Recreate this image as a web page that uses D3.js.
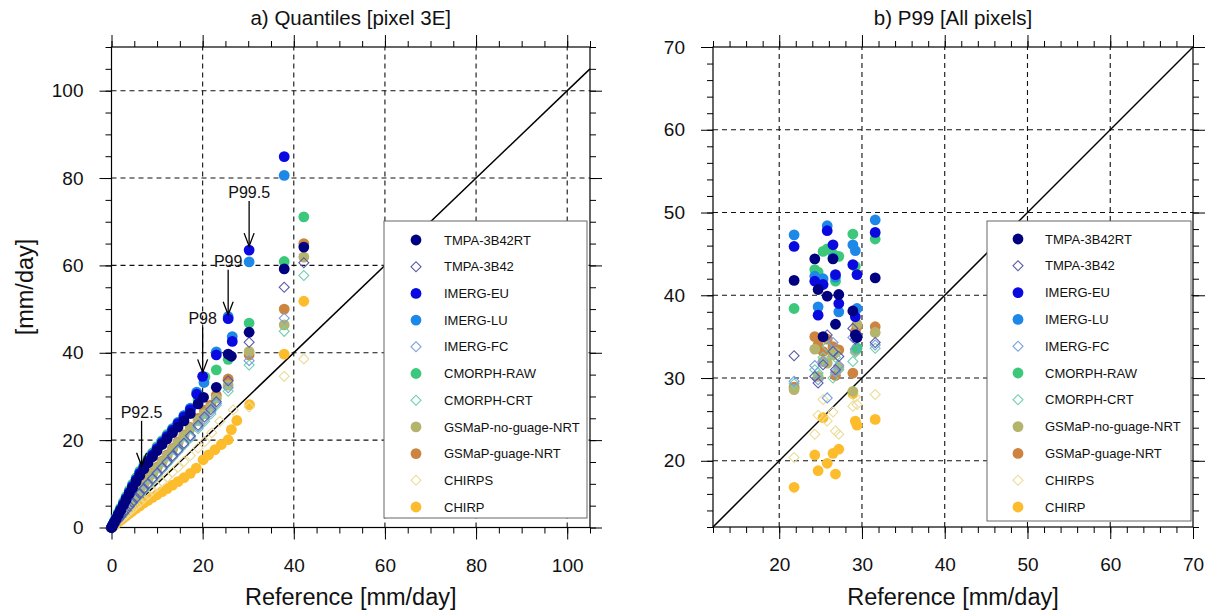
<!DOCTYPE html>
<html>
<head>
<meta charset="utf-8">
<script src="https://cdn.jsdelivr.net/npm/d3@7"></script>
<style>
  body { margin: 0; background: #fff; }
  text { font-family: "Liberation Sans", Arial, Helvetica, sans-serif; fill: #111; }
</style>
</head>
<body>
<div id="canvas"></div>
<script>
// products, in legend order
var products = ['TMPA-3B42RT','TMPA-3B42','IMERG-EU','IMERG-LU','IMERG-FC','CMORPH-RAW',
                'CMORPH-CRT','GSMaP-no-guage-NRT','GSMaP-guage-NRT','CHIRPS','CHIRP'];
var colors = ['#000080','#5b5ba8','#0a0ae0','#1e88e8','#7aa0e0','#3cc87a',
              '#70d0b0','#b4b46c','#cd8440','#ecdc9a','#fdbc2c'];
var hollow = [false,true,false,false,true,false,true,false,false,true,false];

// a) quantiles, pixel 3E : low part of the curve (reference quantiles shared)
var refLow = [0,0.3,0.6,1.0,1.5,2.0,2.6,3.2,3.9,4.6,5.4,6.2,7.1,8.0,9.0,10.0,11.1,12.2,13.4,14.6,15.9,17.3];
var lowRT   = [0,0.5,1.1,1.9,2.9,3.9,5.1,6.3,7.7,9.0,10.5,11.9,13.4,14.8,16.2,17.6,19.0,20.3,21.7,23.0,24.4,26.1];
var low3B42 = [0,0.4,0.8,1.3,1.9,2.5,3.3,4.0,4.9,5.8,6.8,7.8,8.9,10.0,11.2,12.4,13.7,15.0,16.4,17.8,19.3,21.0];
var lowEU   = [0,0.6,1.2,2.0,3.0,4.1,5.3,6.6,8.0,9.4,10.9,12.4,13.8,15.2,16.6,18.0,19.4,20.8,22.3,23.8,25.3,27.0];
var lowLU   = [0,0.6,1.2,2.1,3.1,4.2,5.4,6.7,8.1,9.5,11.0,12.5,13.9,15.3,16.8,18.2,19.6,21.0,22.5,24.0,25.6,27.3];
var lowFC   = [0,0.4,0.8,1.3,1.9,2.5,3.2,4.0,4.8,5.7,6.7,7.7,8.7,9.8,11.0,12.2,13.5,14.8,16.2,17.6,19.1,20.8];
var lowRAW  = [0,0.7,1.4,2.3,3.4,4.5,5.8,7.1,8.5,9.9,11.4,12.9,14.3,15.7,17.1,18.5,19.9,21.3,22.7,24.1,25.6,27.2];
var lowCRT  = [0,0.4,0.8,1.3,1.8,2.4,3.1,3.9,4.7,5.6,6.5,7.5,8.5,9.6,10.8,12.0,13.3,14.6,16.0,17.4,18.9,20.5];
var lowGNG  = [0,0.5,0.9,1.4,2.1,2.8,3.6,4.4,5.4,6.4,7.5,8.6,9.8,11.0,12.3,13.6,15.0,16.4,17.9,19.4,21.0,22.7];
var lowGG   = [0,0.5,1.0,1.5,2.2,2.9,3.7,4.6,5.6,6.6,7.7,8.8,10.0,11.2,12.5,13.8,15.2,16.6,18.1,19.6,21.2,22.9];
var lowCHIRPS = [0,0.3,0.6,0.9,1.4,1.9,2.4,3.0,3.7,4.3,5.1,5.8,6.7,7.5,8.5,9.4,10.5,11.5,12.7,13.8,15.1,16.5];
var lowCHIRP  = [0,0.25,0.5,0.85,1.25,1.65,2.15,2.65,3.2,3.75,4.35,4.95,5.6,6.2,6.9,7.5,8.2,8.9,9.7,10.5,11.4,12.4];

// upper tail, [reference, product]
var tailRT   = [[19.0,28.3],[20.2,29.8],[23.0,32.1],[25.6,39.7],[26.3,39.2],[30.2,44.7],[37.9,59.2],[42.2,64.2]];
var tail3B42 = [[19.0,23.4],[20.4,25.3],[21.8,27.0],[23.0,28.8],[25.6,33.6],[30.2,42.4],[37.9,55.0],[42.2,60.6]];
var tailEU   = [[18.7,30.5],[20.0,34.6],[23.0,39.5],[25.6,47.8],[26.5,42.6],[30.2,63.5],[37.9,84.9]];
var tailLU   = [[18.7,31.0],[20.3,33.2],[23.0,40.2],[25.6,48.3],[26.5,43.7],[30.2,60.8],[37.9,80.6]];
var tailFC   = [[19.0,23.0],[20.4,24.8],[21.8,26.5],[23.0,28.4],[25.6,32.0],[30.2,38.2],[37.9,47.9]];
var tailRAW  = [[19.0,29.2],[20.5,34.5],[23.0,36.1],[25.6,38.5],[30.2,46.8],[37.9,60.9],[42.2,71.1]];
var tailCRT  = [[19.0,22.6],[20.4,24.3],[21.8,26.0],[23.0,28.0],[25.6,31.2],[30.2,37.2],[37.9,44.9],[42.2,57.7]];
var tailGNG  = [[19.0,24.5],[20.4,26.0],[21.8,27.5],[23.0,29.6],[25.6,32.6],[30.2,40.3],[37.9,46.4],[42.2,61.9]];
var tailGG   = [[19.0,25.0],[20.4,26.8],[21.8,28.0],[23.0,30.3],[25.6,34.0],[30.2,39.5],[37.9,50.0],[42.2,65.0]];
var tailCHIRPS = [[19.0,18.2],[20.5,19.7],[22.0,21.7],[23.8,24.3],[26.7,26.9],[30.2,27.6],[37.9,34.6],[42.2,38.6]];
var tailCHIRP  = [[18.6,13.6],[20.1,15.5],[21.3,16.6],[22.7,17.8],[24.1,19.0],[25.6,20.1],[26.3,22.4],[27.5,24.5],[30.3,28.1],[37.9,39.7],[42.2,51.8]];

var quantLabels = [['P92.5',6.6,13.2],['P98',20.0,34.6],['P99',25.6,47.8],['P99.5',30.2,63.5]];

// b) P99 of all pixels
var pixelRef = [21.8,24.3,24.7,25.3,25.8,26.5,26.8,27.2,28.9,29.2,29.4,31.6];
var p99RT   = [41.8,44.4,40.7,35.0,39.9,44.4,36.5,40.1,38.1,35.2,34.9,42.1];
var p993B42 = [32.7,30.2,29.4,31.6,35.2,33.2,31.0,32.6,36.0,34.7,35.3,34.3];
var p99EU   = [45.9,41.7,37.6,41.3,47.8,46.1,42.5,39.0,43.7,37.4,42.5,47.6];
var p99LU   = [47.3,42.3,38.6,42.0,48.4,44.5,42.2,38.0,46.1,45.4,38.4,49.1];
var p99FC   = [29.6,31.5,29.8,32.0,27.6,34.3,30.7,31.5,34.9,33.5,35.1,34.0];
var p99RAW  = [38.4,43.1,42.8,45.3,45.6,45.0,41.7,44.7,47.4,43.5,33.6,46.8];
var p99CRT  = [29.3,31.0,30.6,32.5,33.8,30.0,32.5,31.0,32.0,33.1,33.8,33.6];
var p99GNG  = [28.6,33.5,30.2,32.0,31.8,32.8,33.1,31.3,28.4,33.3,36.5,35.5];
var p99GG   = [28.9,35.0,34.0,33.2,34.7,33.8,30.3,33.4,30.6,35.6,36.2,36.2];
var p99CHIRPS = [20.4,23.2,25.5,27.4,24.8,25.9,23.6,23.2,26.6,27.7,26.8,28.0];
var p99CHIRP  = [16.8,20.7,18.8,25.2,19.7,20.9,18.4,21.4,28.1,24.8,24.3,25.0];

var lowSets  = [lowRT,low3B42,lowEU,lowLU,lowFC,lowRAW,lowCRT,lowGNG,lowGG,lowCHIRPS,lowCHIRP];
var tailSets = [tailRT,tail3B42,tailEU,tailLU,tailFC,tailRAW,tailCRT,tailGNG,tailGG,tailCHIRPS,tailCHIRP];
var p99Sets  = [p99RT,p993B42,p99EU,p99LU,p99FC,p99RAW,p99CRT,p99GNG,p99GG,p99CHIRPS,p99CHIRP];

var W = 1215, H = 613;
var svg = d3.select('#canvas').append('svg').attr('width', W).attr('height', H);

// one frame with outward ticks on four sides, dashed grid, 1:1 line
function panel(xDom, yDom, xr, yr, major, minor, title) {
  var x = d3.scaleLinear().domain(xDom).range(xr);
  var y = d3.scaleLinear().domain(yDom).range(yr);
  var g = svg.append('g');

  var majX = d3.range(Math.ceil(xDom[0]/major)*major, xDom[1]+0.001, major);
  var majY = d3.range(Math.ceil(yDom[0]/major)*major, yDom[1]+0.001, major);
  var minX = d3.range(Math.ceil(xDom[0]/minor)*minor, xDom[1]+0.001, minor);
  var minY = d3.range(Math.ceil(yDom[0]/minor)*minor, yDom[1]+0.001, minor);

  // grid
  g.selectAll('.gx').data(majX.filter(function(v){ return v > xDom[0] && v < xDom[1]; }))
    .enter().append('line')
    .attr('x1', x).attr('x2', x).attr('y1', yr[0]).attr('y2', yr[1])
    .attr('stroke', '#111').attr('stroke-width', 1.1).attr('stroke-dasharray', '5,4');
  g.selectAll('.gy').data(majY.filter(function(v){ return v > yDom[0] && v < yDom[1]; }))
    .enter().append('line')
    .attr('y1', y).attr('y2', y).attr('x1', xr[0]).attr('x2', xr[1])
    .attr('stroke', '#111').attr('stroke-width', 1.1).attr('stroke-dasharray', '5,4');

  // 1:1 line
  var lo = Math.max(xDom[0], yDom[0]), hi = Math.min(xDom[1], yDom[1]);
  g.append('line').attr('x1', x(lo)).attr('y1', y(lo)).attr('x2', x(hi)).attr('y2', y(hi))
    .attr('stroke', '#000').attr('stroke-width', 1.5);

  // axes
  function ax(gen, tx, ty, vals, size, labels, pad) {
    var a = gen.tickValues(vals).tickSize(size).tickSizeOuter(0).tickPadding(pad || 3);
    if (!labels) a.tickFormat('');
    var s = g.append('g').attr('transform', 'translate(' + tx + ',' + ty + ')').call(a);
    s.select('.domain').remove();
    s.selectAll('line').attr('stroke', '#000').attr('stroke-width', 1);
    s.selectAll('text').style('font-size', '19px').attr('fill', '#111')
      .style('font-family', '"Liberation Sans", Arial, sans-serif');
    return s;
  }
  ax(d3.axisBottom(x), 0, yr[0], minX, 6, false);
  ax(d3.axisTop(x), 0, yr[1], minX, 6, false);
  ax(d3.axisLeft(y), xr[0], 0, minY, 6, false);
  ax(d3.axisRight(y), xr[1], 0, minY, 6, false);
  ax(d3.axisBottom(x), 0, yr[0], majX, 12, true, 19);
  ax(d3.axisTop(x), 0, yr[1], majX, 12, false);
  ax(d3.axisLeft(y), xr[0], 0, majY, 12, true, 16);
  ax(d3.axisRight(y), xr[1], 0, majY, 12, false);

  g.append('rect').attr('x', xr[0]).attr('y', yr[1])
    .attr('width', xr[1] - xr[0]).attr('height', yr[0] - yr[1])
    .attr('fill', 'none').attr('stroke', '#000').attr('stroke-width', 1.2);

  g.append('text').attr('x', (xr[0] + xr[1]) / 2).attr('y', 25)
    .attr('text-anchor', 'middle').style('font-size', '20.5px').text(title);
  g.append('text').attr('x', (xr[0] + xr[1]) / 2).attr('y', 605)
    .attr('text-anchor', 'middle').style('font-size', '23.5px').text('Reference [mm/day]');

  return { g: g, x: x, y: y };
}

var square = d3.symbol().type(d3.symbolSquare).size(50);

function marker(sel, i) {
  if (hollow[i]) {
    sel.append('path').attr('d', square)
      .attr('fill', 'none').attr('stroke', colors[i]).attr('stroke-width', 1.1);
  } else {
    sel.append('circle').attr('r', 5.4).attr('fill', colors[i]);
  }
}

function points(p, pts, i) {
  var s = p.g.append('g').selectAll('g').data(pts).enter().append('g')
    .attr('transform', function(d) {
      return 'translate(' + p.x(d[0]) + ',' + p.y(d[1]) + ')' + (hollow[i] ? ' rotate(45)' : '');
    });
  s.each(function() { marker(d3.select(this), i); });
}

function legend(p, lx, ly, lw, lh, row0, step, mx, tx) {
  var lg = p.g.append('g');
  lg.append('rect').attr('x', lx).attr('y', ly).attr('width', lw).attr('height', lh)
    .attr('fill', '#fff').attr('stroke', '#666').attr('stroke-width', 1);
  products.forEach(function(name, i) {
    var cy = row0 + step * i;
    var m = lg.append('g').attr('transform', 'translate(' + (lx + mx) + ',' + cy + ')' + (hollow[i] ? ' rotate(45)' : ''));
    marker(m, i);
    lg.append('text').attr('x', lx + tx).attr('y', cy).attr('dy', '0.36em')
      .style('font-size', '13px').text(name);
  });
}

// ---- panel a
var pa = panel([0, 105], [0, 110], [111.5, 590], [527.5, 47], 20, 5, 'a) Quantiles [pixel 3E]');
for (var i = products.length - 1; i >= 0; i--) {
  var pts = refLow.map(function(r, k) { return [r, lowSets[i][k]]; }).concat(tailSets[i]);
  points(pa, pts, i);
}
quantLabels.forEach(function(q) {
  var ax_ = pa.x(q[1]), tip = pa.y(q[2]) - 4, top = tip - 45;
  pa.g.append('line').attr('x1', ax_).attr('x2', ax_).attr('y1', top).attr('y2', tip)
    .attr('stroke', '#000').attr('stroke-width', 1.3);
  pa.g.append('path').attr('d', 'M' + (ax_ - 5) + ',' + (tip - 13) + 'L' + ax_ + ',' + tip + 'L' + (ax_ + 5) + ',' + (tip - 13))
    .attr('fill', 'none').attr('stroke', '#000').attr('stroke-width', 1.3);
  pa.g.append('text').attr('x', ax_).attr('y', top - 3).attr('text-anchor', 'middle')
    .style('font-size', '16px').text(q[0]);
});
legend(pa, 384, 221, 203, 297, 240, 26.7, 32, 60);

svg.append('text').attr('transform', 'translate(33,287) rotate(-90)')
  .attr('text-anchor', 'middle').style('font-size', '23.5px').text('[mm/day]');

// ---- panel b
var pb = panel([12, 70], [12, 70], [713, 1193], [527, 47], 10, 2, 'b) P99 [All pixels]');
for (var j = products.length - 1; j >= 0; j--) {
  var pts2 = pixelRef.map(function(r, k) { return [r, p99Sets[j][k]]; });
  points(pb, pts2, j);
}
legend(pb, 987, 221, 204, 300, 239, 26.8, 31, 58);
</script>
</body>
</html>
